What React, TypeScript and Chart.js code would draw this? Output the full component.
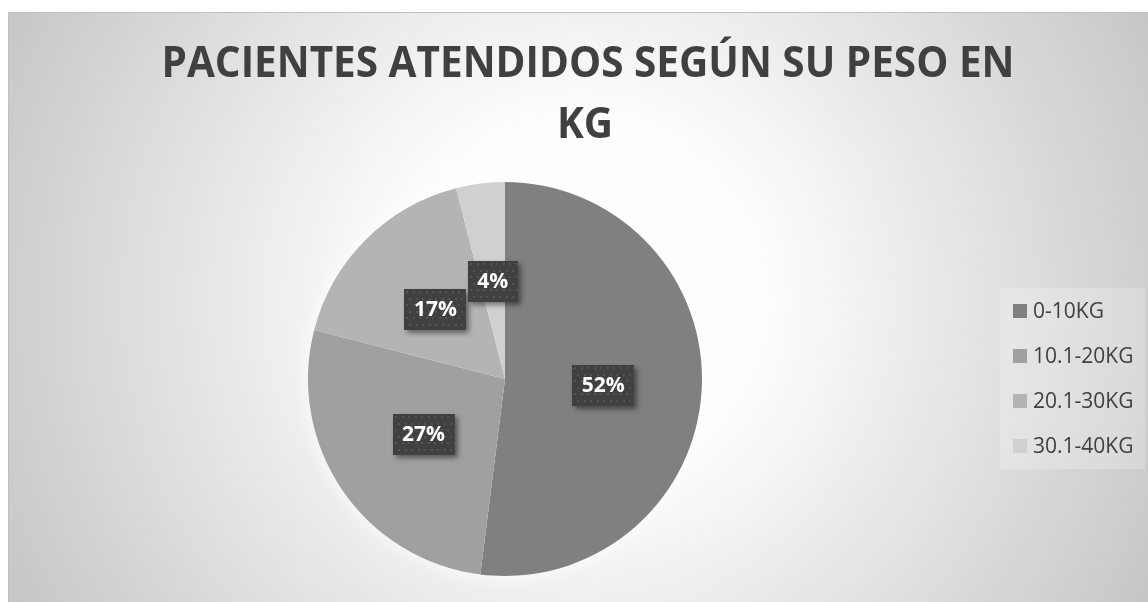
import React, { useEffect, useRef } from "react";
import { Chart, registerables } from "chart.js";

Chart.register(...registerables);

const TITLE_LINES = ["PACIENTES ATENDIDOS SEGÚN SU PESO EN", "KG"];
const CATEGORIES = ["0-10KG", "10.1-20KG", "20.1-30KG", "30.1-40KG"];
const PERCENTS = [52, 27, 17, 4];
const SLICE_COLORS = ["#808080", "#a0a0a0", "#b4b4b4", "#d0d0d0"];

const W = 1148;
const H = 602;

const backgroundPlugin = {
  id: "bgPlugin",
  beforeDraw(chart: any) {
    const ctx = chart.ctx as CanvasRenderingContext2D;
    ctx.save();
    ctx.fillStyle = "#ffffff";
    ctx.fillRect(0, 0, W, H);
    const g = ctx.createRadialGradient(580, 300, 0, 580, 300, 660);
    g.addColorStop(0, "#ffffff");
    g.addColorStop(0.28, "#fdfdfd");
    g.addColorStop(1, "#c4c4c4");
    ctx.fillStyle = g;
    ctx.fillRect(8, 12, W - 8, H - 12);
    ctx.strokeStyle = "#bfbfbf";
    ctx.lineWidth = 1;
    ctx.beginPath();
    ctx.moveTo(8.5, H);
    ctx.lineTo(8.5, 12.5);
    ctx.lineTo(W, 12.5);
    ctx.stroke();
    // legend box fill
    ctx.fillStyle = "rgba(255,255,255,0.22)";
    ctx.fillRect(1000, 288, 145, 181);
    ctx.restore();
  },
  beforeDatasetsDraw(chart: any) {
    const ctx = chart.ctx as CanvasRenderingContext2D;
    const arc = chart.getDatasetMeta(0).data[0];
    if (!arc) return;
    ctx.save();
    ctx.shadowColor = "rgba(255,255,255,1)";
    ctx.shadowBlur = 22;
    ctx.fillStyle = "#ffffff";
    ctx.beginPath();
    ctx.arc(arc.x, arc.y, arc.outerRadius - 2, 0, Math.PI * 2);
    ctx.fill();
    ctx.restore();
  },
};

const labelPlugin = {
  id: "labelPlugin",
  afterDatasetsDraw(chart: any) {
    const ctx = chart.ctx as CanvasRenderingContext2D;
    const meta = chart.getDatasetMeta(0);
    const data = chart.data.datasets[0].data as number[];
    const total = data.reduce((a, b) => a + b, 0);
    ctx.save();
    ctx.font = "bold 21px 'Open Sans'";
    meta.data.forEach((arc: any, i: number) => {
      const p = arc.getCenterPoint();
      const txt = Math.round((data[i] / total) * 100) + "%";
      const tw = ctx.measureText(txt).width;
      const bw = tw + 19;
      const bh = 41;
      const x0 = Math.round(p.x - bw / 2);
      const y0 = Math.round(p.y - bh / 2);
      // shadow box
      ctx.save();
      ctx.shadowColor = "rgba(0,0,0,0.45)";
      ctx.shadowBlur = 5;
      ctx.shadowOffsetX = 3;
      ctx.shadowOffsetY = 3;
      ctx.fillStyle = "#404040";
      ctx.fillRect(x0, y0, bw, bh);
      ctx.restore();
      // dotted pattern
      ctx.save();
      ctx.beginPath();
      ctx.rect(x0, y0, bw, bh);
      ctx.clip();
      ctx.fillStyle = "#545454";
      let row = 0;
      for (let yy = y0 + 2; yy < y0 + bh; yy += 6.5) {
        const off = row % 2 === 0 ? 2 : 5.25;
        for (let xx = x0 + off; xx < x0 + bw; xx += 6.5) {
          ctx.fillRect(Math.round(xx), Math.round(yy), 2, 2);
        }
        row++;
      }
      ctx.restore();
      ctx.fillStyle = "#ffffff";
      ctx.textAlign = "center";
      ctx.textBaseline = "middle";
      ctx.fillText(txt, p.x, y0 + bh / 2 + 1);
    });
    ctx.restore();
  },
  afterDraw(chart: any) {
    const ctx = chart.ctx as CanvasRenderingContext2D;
    ctx.save();
    // title
    ctx.fillStyle = "#404040";
    ctx.font = "bold 43px 'Open Sans'";
    ctx.textAlign = "center";
    ctx.textBaseline = "alphabetic";
    const w1 = ctx.measureText(TITLE_LINES[0]).width;
    const sx = 853 / w1;
    const baselines = [77, 138];
    const centers = [588, 585];
    TITLE_LINES.forEach((line, i) => {
      ctx.save();
      ctx.translate(centers[i], baselines[i]);
      ctx.scale(sx, 1);
      ctx.fillText(line, 0, 0);
      ctx.restore();
    });
    // legend
    const labels = chart.data.labels as string[];
    const colors = chart.data.datasets[0].backgroundColor as string[];
    ctx.font = "21px 'Open Sans'";
    ctx.textAlign = "left";
    ctx.textBaseline = "middle";
    labels.forEach((lab, i) => {
      const cy = 311 + i * 45;
      ctx.fillStyle = colors[i];
      ctx.fillRect(1013, cy - 7, 14, 14);
      ctx.fillStyle = "#404040";
      ctx.fillText(lab, 1033, cy + 1);
    });
    ctx.restore();
  },
};

export default function App() {
  const ref = useRef<HTMLCanvasElement | null>(null);
  useEffect(() => {
    if (!ref.current) return;
    const chart = new Chart(ref.current, {
      type: "pie",
      data: {
        labels: CATEGORIES,
        datasets: [
          {
            data: PERCENTS,
            backgroundColor: SLICE_COLORS,
            borderWidth: 0,
          },
        ],
      },
      options: {
        responsive: false,
        animation: false,
        layout: { padding: { left: 308, right: 446, top: 182, bottom: 26 } },
        plugins: {
          legend: { display: false },
          title: { display: false },
          tooltip: { enabled: false },
        },
      },
      plugins: [backgroundPlugin, labelPlugin],
    });
    return () => chart.destroy();
  }, []);
  return (
    <div style={{ position: "absolute", left: 0, top: 0, width: W, height: H }}>
      <canvas ref={ref} width={W} height={H} style={{ display: "block", width: W, height: H }} />
    </div>
  );
}
